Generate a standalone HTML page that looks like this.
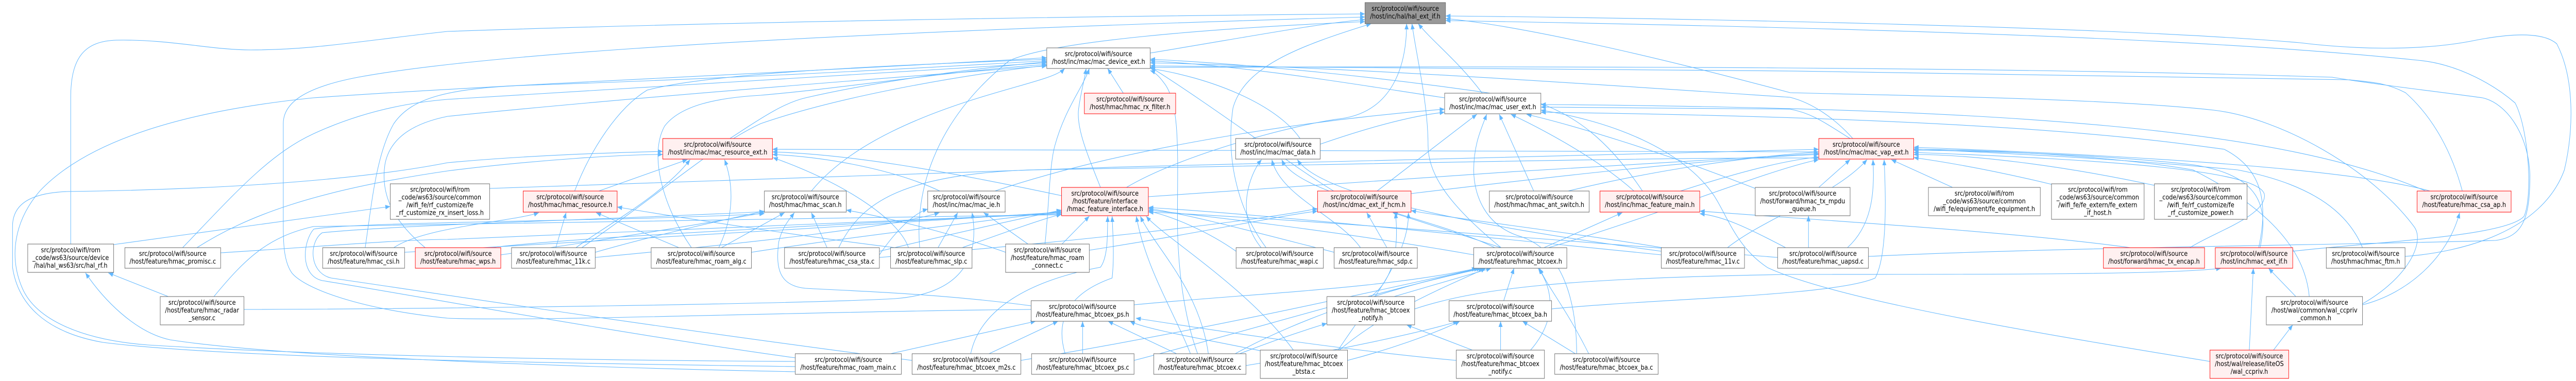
<!DOCTYPE html>
<html><head><meta charset="utf-8"><style>
html,body{margin:0;padding:0;background:#fff;width:100%;height:100%;overflow:hidden;}
svg{display:block;position:fixed;left:0;top:0;width:100vw;height:100vh;}
.n rect{fill:#fff;stroke:#666;stroke-width:1;}
.n.r rect{fill:#fff0f0;stroke:#f00;}
.n.g rect{fill:#999;stroke:#666;}
text{font-family:"DejaVu Sans","Liberation Sans",sans-serif;font-size:13px;fill:#000;text-anchor:middle;}
.e path{fill:none;stroke:#63b8ff;stroke-width:1.1;}
</style></head><body>
<svg xmlns="http://www.w3.org/2000/svg" viewBox="0 0 5756 740" preserveAspectRatio="none">
<defs><marker id="a" markerUnits="userSpaceOnUse" markerWidth="12" markerHeight="10" refX="11" refY="5" orient="auto"><path d="M0,0.5 L11,5 L0,9.5 z" fill="#63b8ff"/></marker></defs>
<rect width="5756" height="740" fill="#fff"/>
<g class="e" marker-end="url(#a)">
<path d="M158,474 L158,190 C158,110 190,80 260,78 C380,76 470,97 560,97 C700,97 800,80 1000,61 C1700,40 2600,30 3050,27"/>
<path d="M2304,601 C1800,605 1200,625 1000,618 C800,600 680,560 652,530 C636,510 633,480 633,440 L633,240 C633,200 680,170 800,150 C1000,118 1500,72 3050,33"/>
<path d="M2570,103 C2800,70 2950,45 3050,38"/>
<path d="M3312,181 C3260,120 3200,80 3169,46"/>
<path d="M3354,481 C3240,400 3191,340 3191,283 C3191,200 3165,110 3155,46"/>
<path d="M2055,481 C2045,380 2080,240 2255,118 C2350,80 2700,55 3050,42"/>
<path d="M2517,364 C2640,300 2900,240 3000,230 C3110,215 3143,130 3143,46"/>
<path d="M2829,481 C2760,400 2740,300 2755,210 C2780,130 2900,90 3064,46"/>
<path d="M5374,498 C5500,490 5680,450 5730,330 C5752,250 5752,150 5713,85 C5680,60 5600,66 5521,80 C5400,100 5250,95 5139,83 C4700,50 3700,35 3230,31"/>
<path d="M5279,590 C5380,540 5420,470 5394,440 C5300,330 5100,230 4947,214 C4700,190 4200,185 4000,180 C3700,110 3400,50 3230,36"/>
<path d="M5123,488 C5300,470 5600,460 5640,420 C5660,380 5650,250 5620,200 C5580,170 5500,125 5403,117 C5100,90 4600,60 3230,40"/>
<path d="M2510,181 L2475,133"/>
<path d="M1284,371 C1320,290 1380,210 1446,175 C1600,140 2000,127 2339,115"/>
<path d="M1631,269 C1700,230 1750,200 1800,190 C1950,160 2150,135 2339,120"/>
<path d="M1545,481 C1480,400 1450,300 1485,245 C1520,205 1600,190 1700,185 C1900,170 2100,140 2339,125"/>
<path d="M816,481 C830,400 840,300 880,240 C920,190 1000,170 1200,165 C1700,150 2100,130 2339,118"/>
<path d="M408,481 C520,380 600,300 700,260 C800,220 900,200 1000,193 C1500,165 2000,140 2339,122"/>
<path d="M950,481 C880,430 850,380 860,320 C870,270 920,240 1000,226 C1400,190 2000,150 2339,128"/>
<path d="M1777,702 C1300,700 700,690 330,670 C180,660 80,620 50,560 C20,500 30,430 90,370 C200,270 420,215 700,190 C1100,165 1800,140 2339,112"/>
<path d="M2335,474 C2344,400 2345,320 2357,283 C2380,210 2420,170 2434,133"/>
<path d="M2459,364 C2430,300 2405,250 2410,212 C2415,180 2422,160 2427,133"/>
<path d="M1813,371 C1880,300 2000,240 2191,189 C2300,160 2360,150 2379,133"/>
<path d="M2676,687 C2640,600 2631,500 2631,425 C2631,300 2638,200 2600,160 C2590,148 2580,140 2570,137"/>
<path d="M5502,371 C5480,300 5440,230 5375,180 C5330,160 5300,160 5250,155 C4500,140 3200,130 2570,128"/>
<path d="M3228,190 C3000,160 2800,130 2570,118"/>
<path d="M4140,269 C4100,230 4050,200 4000,189 C3500,160 3000,130 2570,122"/>
<path d="M2905,269 C2850,200 2700,150 2570,133"/>
<path d="M3670,371 C3600,280 3520,215 3400,190 C3100,150 2800,125 2570,115"/>
<path d="M4175,498 C4600,480 5300,475 5576,467 C5640,460 5653,420 5653,340 C5650,260 5600,200 5547,190 C5420,175 5300,163 5211,150 C4500,130 3500,128 2570,131"/>
<path d="M2980,371 C2900,330 2700,200 2570,130"/>
<path d="M1300,481 C1500,360 1600,280 1700,240 C1900,180 2200,140 2339,127"/>
<path d="M3077,371 L3300,222"/>
<path d="M3427,371 L3350,222"/>
<path d="M3651,371 C3560,300 3420,240 3376,222"/>
<path d="M3922,366 C3700,290 3500,240 3411,222"/>
<path d="M3523,687 C3523,600 3500,490 3400,460 C3320,440 3293,380 3293,330 C3293,280 3310,250 3322,222"/>
<path d="M2223,371 C2500,290 2900,235 3228,212"/>
<path d="M2950,280 C3050,250 3150,225 3228,218"/>
<path d="M5047,481 C5067,400 5060,330 4970,290 C4826,273 4500,230 3443,218"/>
<path d="M4134,269 C4080,240 4050,220 4000,212 C3800,210 3600,210 3443,208"/>
<path d="M5420,371 C5100,250 4500,210 3443,203"/>
<path d="M4938,702 C4500,640 4100,580 3950,520 C3880,480 3860,420 3830,380 C3760,290 3600,235 3443,214"/>
<path d="M1338,371 L1536,310"/>
<path d="M1287,481 C1350,440 1480,380 1542,310"/>
<path d="M1606,481 C1640,420 1640,360 1619,310"/>
<path d="M2030,481 C2010,430 1900,360 1727,306"/>
<path d="M440,481 C550,420 700,370 1000,332 C1200,310 1400,300 1481,300"/>
<path d="M1777,712 C1200,705 500,695 230,665 C100,645 40,590 28,519 L28,440 C28,395 70,375 150,372 C500,368 800,350 1000,316 C1200,300 1400,296 1481,294"/>
<path d="M2372,380 C2100,330 1900,300 1726,295"/>
<path d="M2100,371 C2000,330 1850,305 1726,300"/>
<path d="M4064,295 C3000,300 2000,290 1726,290"/>
<path d="M2818,481 C2760,420 2790,340 2819,310"/>
<path d="M3040,481 C2990,420 2860,380 2842,310"/>
<path d="M3712,488 C3300,440 2950,380 2899,310"/>
<path d="M3340,481 C3200,420 2900,380 2864,310"/>
<path d="M4064,364 L4134,310"/>
<path d="M4363,364 L4226,310"/>
<path d="M4584,358 C4450,330 4350,315 4276,306"/>
<path d="M4814,360 C4600,320 4400,300 4276,300"/>
<path d="M4128,481 C4180,440 4190,380 4185,310"/>
<path d="M4893,481 C4950,450 5060,420 5060,380 C5060,330 4700,310 4276,296"/>
<path d="M5050,481 C5070,400 5050,340 4900,320 C4700,300 4400,292 4276,292"/>
<path d="M5279,481 C5250,420 5180,360 5000,330 C4700,305 4400,295 4276,289"/>
<path d="M5430,371 C5300,340 5000,310 4276,286"/>
<path d="M3153,376 C3500,340 3800,310 4064,300"/>
<path d="M3504,371 C3700,330 3900,305 4064,295"/>
<path d="M3755,371 C3900,330 4000,310 4064,305"/>
<path d="M1094,366 C2000,335 3200,305 4064,290"/>
<path d="M1874,481 C1920,400 2000,340 2300,330 C3000,320 3700,305 4064,307"/>
<path d="M3860,481 C3950,420 4100,380 4172,310"/>
<path d="M5160,576 C5150,480 5060,400 4900,330 C4700,300 4400,290 4276,290"/>
<path d="M3460,481 C3700,420 3950,330 4064,310"/>
<path d="M2566,382 C3000,354 3600,320 4064,298"/>
<path d="M3467,600 C3700,580 4100,575 4190,540 C4215,500 4215,400 4210,310"/>
<path d="M1242,481 L1265,413"/>
<path d="M1517,481 L1332,413"/>
<path d="M880,481 C950,440 1150,430 1204,413"/>
<path d="M2000,481 C1800,460 1500,420 1379,402"/>
<path d="M1848,481 L1813,413"/>
<path d="M1612,481 L1753,413"/>
<path d="M1330,490 C1450,460 1600,430 1708,410"/>
<path d="M1119,495 C1400,460 1600,430 1708,413"/>
<path d="M2304,594 C2100,570 1900,565 1800,560 C1740,555 1733,520 1740,470 C1748,440 1765,425 1775,413"/>
<path d="M2247,490 C2150,460 2000,425 1891,408"/>
<path d="M1777,695 C1400,650 900,570 720,545 C670,535 676,470 701,445 C800,430 1400,430 1708,415"/>
<path d="M2038,700 C1500,640 900,560 740,540 C690,530 690,470 720,452 C900,436 1400,425 1708,411"/>
<path d="M2096,481 L2140,413"/>
<path d="M2297,474 L2198,413"/>
<path d="M1965,495 C2000,450 2040,415 2073,406"/>
<path d="M1330,500 C1700,470 2000,440 2099,413"/>
<path d="M545,601 C1000,600 1800,590 2000,580 C2150,570 2190,500 2172,413"/>
<path d="M2373,474 L2434,420"/>
<path d="M2169,687 C2190,600 2300,545 2459,519 C2475,500 2475,460 2475,420"/>
<path d="M2380,687 C2350,600 2420,560 2485,540 C2490,500 2487,460 2485,420"/>
<path d="M2660,687 C2620,600 2560,520 2539,420"/>
<path d="M2700,687 C2680,560 2580,480 2548,420"/>
<path d="M2890,680 C2790,560 2600,460 2561,420"/>
<path d="M2150,481 C2250,450 2330,425 2372,416"/>
<path d="M1096,481 C1300,460 1800,440 2372,413"/>
<path d="M1679,490 C1900,460 2200,430 2372,410"/>
<path d="M1965,488 C2100,460 2250,430 2372,408"/>
<path d="M493,491 C700,480 900,465 1000,465 C1500,450 2000,430 2372,415"/>
<path d="M478,576 C550,500 600,460 700,440 C1000,434 1800,425 2372,417"/>
<path d="M904,490 C1300,470 1900,440 2372,412"/>
<path d="M2762,488 C2700,450 2620,420 2566,410"/>
<path d="M2981,490 C2800,450 2650,415 2566,405"/>
<path d="M3293,495 C3000,450 2700,420 2566,408"/>
<path d="M3712,495 C3200,450 2800,415 2566,403"/>
<path d="M3972,500 C3400,460 2800,420 2566,412"/>
<path d="M3099,481 L3054,413"/>
<path d="M3354,481 L3112,413"/>
<path d="M2434,486 C2700,450 2850,420 2944,410"/>
<path d="M3714,481 C3500,450 3250,425 3153,409"/>
<path d="M3063,576 C3120,540 3125,470 3118,413"/>
<path d="M2990,680 C3050,600 3150,500 3147,413"/>
<path d="M1965,500 C2400,470 2800,430 2944,405"/>
<path d="M3450,481 L3625,413"/>
<path d="M3990,481 C3900,440 3850,420 3798,415"/>
<path d="M4760,481 C4500,450 4100,430 3798,410"/>
<path d="M4041,481 L4041,419"/>
<path d="M5279,592 C5380,570 5470,500 5496,413"/>
<path d="M376,576 L242,530"/>
<path d="M1777,722 C1200,712 600,690 380,660 C300,645 230,580 191,530"/>
<path d="M254,475 L872,401"/>
<path d="M2534,592 C2800,570 3100,560 3300,521"/>
<path d="M3115,576 L3332,521"/>
<path d="M3360,584 L3383,521"/>
<path d="M3420,680 C3480,620 3470,560 3437,521"/>
<path d="M3550,687 C3500,600 3460,560 3440,521"/>
<path d="M2760,687 C2900,620 3100,560 3310,521"/>
<path d="M2990,682 C3100,600 3250,550 3320,521"/>
<path d="M2281,700 C2700,640 3100,560 3305,521"/>
<path d="M2534,700 C2800,640 3100,560 3315,521"/>
<path d="M1990,687 L2314,624"/>
<path d="M2210,687 L2364,624"/>
<path d="M2419,687 L2419,624"/>
<path d="M2629,687 L2476,624"/>
<path d="M2820,682 C2700,660 2560,640 2525,624"/>
<path d="M3254,700 C3000,680 2700,640 2538,618"/>
<path d="M3290,680 L3143,631"/>
<path d="M2770,687 C2850,660 2920,640 2965,628"/>
<path d="M3353,680 L3353,624"/>
<path d="M3520,687 L3402,624"/>
<path d="M2784,710 C3000,680 3200,640 3258,624"/>
<path d="M3011,700 C3100,680 3200,650 3262,624"/>
<path d="M5026,680 L5035,521"/>
<path d="M5130,576 L5069,521"/>
<path d="M3161,600 C3300,560 3500,540 4000,533 C4500,533 4850,533 4963,521"/>
<path d="M5080,680 L5123,631"/>
</g>

<g class="n g"><rect x="3050" y="5" width="180" height="41"/><text x="3140" y="21">src/protocol/wifi/source</text><text x="3140" y="36">/host/inc/hal/hal_ext_if.h</text></g>
<g class="n"><rect x="2339" y="93" width="231" height="40"/><text x="2454.5" y="109">src/protocol/wifi/source</text><text x="2454.5" y="124">/host/inc/mac/mac_device_ext.h</text></g>
<g class="n r"><rect x="2423" y="181" width="204" height="40"/><text x="2525" y="197">src/protocol/wifi/source</text><text x="2525" y="212">/host/hmac/hmac_rx_filter.h</text></g>
<g class="n"><rect x="3228" y="181" width="215" height="40"/><text x="3335.5" y="197">src/protocol/wifi/source</text><text x="3335.5" y="212">/host/inc/mac/mac_user_ext.h</text></g>
<g class="n r"><rect x="1481" y="269" width="245" height="40"/><text x="1603.5" y="285">src/protocol/wifi/source</text><text x="1603.5" y="300">/host/inc/mac/mac_resource_ext.h</text></g>
<g class="n"><rect x="2761" y="269" width="189" height="40"/><text x="2855.5" y="285">src/protocol/wifi/source</text><text x="2855.5" y="300">/host/inc/mac/mac_data.h</text></g>
<g class="n r"><rect x="4064" y="269" width="212" height="40"/><text x="4170" y="285">src/protocol/wifi/source</text><text x="4170" y="300">/host/inc/mac/mac_vap_ext.h</text></g>

<g class="n"><rect x="872" y="357" width="222" height="69"/><text x="983" y="372.5">src/protocol/wifi/rom</text><text x="983" y="387.5">_code/ws63/source/common</text><text x="983" y="402.5">/wifi_fe/rf_customize/fe</text><text x="983" y="417.5">_rf_customize_rx_insert_loss.h</text></g>
<g class="n r"><rect x="1169" y="371" width="210" height="41"/><text x="1274" y="387">src/protocol/wifi/source</text><text x="1274" y="402">/host/hmac/hmac_resource.h</text></g>
<g class="n"><rect x="1708" y="371" width="183" height="41"/><text x="1799.5" y="387">src/protocol/wifi/source</text><text x="1799.5" y="402">/host/hmac/hmac_scan.h</text></g>
<g class="n"><rect x="2073" y="371" width="173" height="41"/><text x="2159.5" y="387">src/protocol/wifi/source</text><text x="2159.5" y="402">/host/inc/mac/mac_ie.h</text></g>
<g class="n r"><rect x="2372" y="364" width="194" height="55"/><text x="2469" y="380">src/protocol/wifi/source</text><text x="2469" y="395">/host/feature/interface</text><text x="2469" y="410">/hmac_feature_interface.h</text></g>
<g class="n r"><rect x="2944" y="371" width="209" height="41"/><text x="3048.5" y="387">src/protocol/wifi/source</text><text x="3048.5" y="402">/host/inc/dmac_ext_if_hcm.h</text></g>
<g class="n"><rect x="3328" y="371" width="223" height="41"/><text x="3439.5" y="387">src/protocol/wifi/source</text><text x="3439.5" y="402">/host/hmac/hmac_ant_switch.h</text></g>
<g class="n r"><rect x="3575" y="371" width="223" height="41"/><text x="3686.5" y="387">src/protocol/wifi/source</text><text x="3686.5" y="402">/host/inc/hmac_feature_main.h</text></g>
<g class="n"><rect x="3922" y="364" width="212" height="55"/><text x="4028" y="380">src/protocol/wifi/source</text><text x="4028" y="395">/host/forward/hmac_tx_mpdu</text><text x="4028" y="410">_queue.h</text></g>
<g class="n"><rect x="4309" y="364" width="250" height="55"/><text x="4434" y="380">src/protocol/wifi/rom</text><text x="4434" y="395">_code/ws63/source/common</text><text x="4434" y="410">/wifi_fe/equipment/fe_equipment.h</text></g>
<g class="n"><rect x="4584" y="357" width="207" height="69"/><text x="4687.5" y="372.5">src/protocol/wifi/rom</text><text x="4687.5" y="387.5">_code/ws63/source/common</text><text x="4687.5" y="402.5">/wifi_fe/fe_extern/fe_extern</text><text x="4687.5" y="417.5">_if_host.h</text></g>
<g class="n"><rect x="4814" y="357" width="207" height="69"/><text x="4917.5" y="372.5">src/protocol/wifi/rom</text><text x="4917.5" y="387.5">_code/ws63/source/common</text><text x="4917.5" y="402.5">/wifi_fe/rf_customize/fe</text><text x="4917.5" y="417.5">_rf_customize_power.h</text></g>
<g class="n r"><rect x="5401" y="371" width="210" height="41"/><text x="5506" y="387">src/protocol/wifi/source</text><text x="5506" y="402">/host/feature/hmac_csa_ap.h</text></g>

<g class="n"><rect x="62" y="474" width="192" height="55"/><text x="158" y="490">src/protocol/wifi/rom</text><text x="158" y="505">_code/ws63/source/device</text><text x="158" y="520">/hal/hal_ws63/src/hal_rf.h</text></g>
<g class="n"><rect x="279" y="481" width="214" height="40"/><text x="386" y="497">src/protocol/wifi/source</text><text x="386" y="512">/host/feature/hmac_promisc.c</text></g>
<g class="n"><rect x="721" y="481" width="183" height="40"/><text x="812.5" y="497">src/protocol/wifi/source</text><text x="812.5" y="512">/host/feature/hmac_csi.h</text></g>
<g class="n r"><rect x="928" y="481" width="191" height="40"/><text x="1023.5" y="497">src/protocol/wifi/source</text><text x="1023.5" y="512">/host/feature/hmac_wps.h</text></g>
<g class="n"><rect x="1143" y="481" width="187" height="40"/><text x="1236.5" y="497">src/protocol/wifi/source</text><text x="1236.5" y="512">/host/feature/hmac_11k.c</text></g>
<g class="n"><rect x="1455" y="481" width="224" height="40"/><text x="1567" y="497">src/protocol/wifi/source</text><text x="1567" y="512">/host/feature/hmac_roam_alg.c</text></g>
<g class="n"><rect x="1753" y="481" width="212" height="40"/><text x="1859" y="497">src/protocol/wifi/source</text><text x="1859" y="512">/host/feature/hmac_csa_sta.c</text></g>
<g class="n"><rect x="1990" y="481" width="182" height="40"/><text x="2081" y="497">src/protocol/wifi/source</text><text x="2081" y="512">/host/feature/hmac_slp.c</text></g>
<g class="n"><rect x="2247" y="474" width="187" height="55"/><text x="2340.5" y="490">src/protocol/wifi/source</text><text x="2340.5" y="505">/host/feature/hmac_roam</text><text x="2340.5" y="520">_connect.c</text></g>
<g class="n"><rect x="2762" y="481" width="195" height="40"/><text x="2859.5" y="497">src/protocol/wifi/source</text><text x="2859.5" y="512">/host/feature/hmac_wapi.c</text></g>
<g class="n"><rect x="2981" y="481" width="186" height="40"/><text x="3074" y="497">src/protocol/wifi/source</text><text x="3074" y="512">/host/feature/hmac_sdp.c</text></g>
<g class="n"><rect x="3293" y="481" width="208" height="40"/><text x="3397" y="497">src/protocol/wifi/source</text><text x="3397" y="512">/host/feature/hmac_btcoex.h</text></g>
<g class="n"><rect x="3712" y="481" width="186" height="40"/><text x="3805" y="497">src/protocol/wifi/source</text><text x="3805" y="512">/host/feature/hmac_11v.c</text></g>
<g class="n"><rect x="3972" y="481" width="203" height="40"/><text x="4073.5" y="497">src/protocol/wifi/source</text><text x="4073.5" y="512">/host/feature/hmac_uapsd.c</text></g>
<g class="n r"><rect x="4700" y="481" width="226" height="40"/><text x="4813" y="497">src/protocol/wifi/source</text><text x="4813" y="512">/host/forward/hmac_tx_encap.h</text></g>
<g class="n r"><rect x="4950" y="481" width="173" height="40"/><text x="5036.5" y="497">src/protocol/wifi/source</text><text x="5036.5" y="512">/host/inc/hmac_ext_if.h</text></g>
<g class="n"><rect x="5198" y="481" width="176" height="40"/><text x="5286" y="497">src/protocol/wifi/source</text><text x="5286" y="512">/host/hmac/hmac_ftm.h</text></g>

<g class="n"><rect x="358" y="576" width="187" height="55"/><text x="451.5" y="592">src/protocol/wifi/source</text><text x="451.5" y="607">/host/feature/hmac_radar</text><text x="451.5" y="622">_sensor.c</text></g>
<g class="n"><rect x="2304" y="584" width="230" height="40"/><text x="2419" y="600">src/protocol/wifi/source</text><text x="2419" y="615">/host/feature/hmac_btcoex_ps.h</text></g>
<g class="n"><rect x="2965" y="576" width="196" height="55"/><text x="3063" y="592">src/protocol/wifi/source</text><text x="3063" y="607">/host/feature/hmac_btcoex</text><text x="3063" y="622">_notify.h</text></g>
<g class="n"><rect x="3238" y="584" width="229" height="40"/><text x="3352.5" y="600">src/protocol/wifi/source</text><text x="3352.5" y="615">/host/feature/hmac_btcoex_ba.h</text></g>
<g class="n"><rect x="5064" y="576" width="215" height="55"/><text x="5171.5" y="592">src/protocol/wifi/source</text><text x="5171.5" y="607">/host/wal/common/wal_ccpriv</text><text x="5171.5" y="622">_common.h</text></g>

<g class="n"><rect x="1777" y="687" width="237" height="40"/><text x="1895.5" y="703">src/protocol/wifi/source</text><text x="1895.5" y="718">/host/feature/hmac_roam_main.c</text></g>
<g class="n"><rect x="2038" y="687" width="243" height="40"/><text x="2159.5" y="703">src/protocol/wifi/source</text><text x="2159.5" y="718">/host/feature/hmac_btcoex_m2s.c</text></g>
<g class="n"><rect x="2305" y="687" width="229" height="40"/><text x="2419.5" y="703">src/protocol/wifi/source</text><text x="2419.5" y="718">/host/feature/hmac_btcoex_ps.c</text></g>
<g class="n"><rect x="2578" y="687" width="206" height="40"/><text x="2681" y="703">src/protocol/wifi/source</text><text x="2681" y="718">/host/feature/hmac_btcoex.c</text></g>
<g class="n"><rect x="2816" y="680" width="195" height="55"/><text x="2913.5" y="696">src/protocol/wifi/source</text><text x="2913.5" y="711">/host/feature/hmac_btcoex</text><text x="2913.5" y="726">_btsta.c</text></g>
<g class="n"><rect x="3254" y="680" width="197" height="55"/><text x="3352.5" y="696">src/protocol/wifi/source</text><text x="3352.5" y="711">/host/feature/hmac_btcoex</text><text x="3352.5" y="726">_notify.c</text></g>
<g class="n"><rect x="3474" y="687" width="231" height="40"/><text x="3589.5" y="703">src/protocol/wifi/source</text><text x="3589.5" y="718">/host/feature/hmac_btcoex_ba.c</text></g>
<g class="n r"><rect x="4938" y="680" width="176" height="55"/><text x="5026" y="696">src/protocol/wifi/source</text><text x="5026" y="711">/host/wal/release/liteOS</text><text x="5026" y="726">/wal_ccpriv.h</text></g>
</svg>
</body></html>
